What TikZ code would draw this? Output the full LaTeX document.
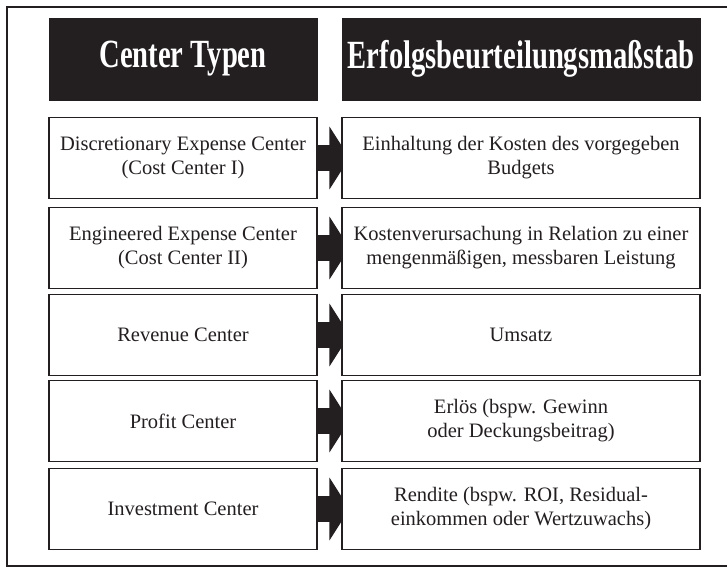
\documentclass[tikz,border=0pt]{standalone}
\usepackage{fontspec}
\usepackage{graphicx}
\setmainfont{Liberation Serif}
\usetikzlibrary{arrows.meta,backgrounds,calc}
\definecolor{ink}{RGB}{35,31,32}
\begin{document}
\begin{tikzpicture}[x=1bp,y=-1bp,
  frame/.style={draw=ink,line width=2.4bp},
  header/.style={fill=ink,draw=ink,text=white,minimum height=82bp,inner sep=0pt,
    font=\fontsize{40bp}{44bp}\selectfont\bfseries},
  leftbox/.style={draw=ink,fill=white,line width=1.1bp,minimum width=268bp,minimum height=81bp,
    align=center,text=ink,inner sep=0pt,font=\fontsize{20.5bp}{24bp}\selectfont},
  rightbox/.style={leftbox,minimum width=358bp},
  blockarrow/.style={draw=ink,fill=ink,line width=26bp,
    -{Triangle[width=62bp,length=20bp]}}
]
\useasboundingbox (0,0) rectangle (727,567);
\draw[frame] (730,7) -- (7,7) -- (7,566) -- (730,566);

\node[header,minimum width=268bp] (H1) at (183,59) {\scalebox{0.715}[1]{Center Typen}};
\node[header,minimum width=358bp] (H2) at (521,59) {\scalebox{0.715}[1]{Erfolgsbeurteilungsmaßstab}};

\node[leftbox] (L1) at (183,158) {Discretionary Expense Center\\(Cost Center I)};
\node[leftbox] (L2) at (183,248) {Engineered Expense Center\\(Cost Center II)};
\node[leftbox] (L3) at (183,335) {Revenue Center};
\node[leftbox] (L4) at (183,421) {Profit Center};
\node[leftbox] (L5) at (183,509) {Investment Center};

\node[rightbox] (R1) at (521,158) {Einhaltung der Kosten des vorgegeben\\Budgets};
\node[rightbox] (R2) at (521,248) {Kostenverursachung in Relation zu einer\\mengenmäßigen, messbaren Leistung};
\node[rightbox] (R3) at (521,335) {Umsatz};
\node[rightbox] (R4) at (521,421) {Erlös (bspw. Gewinn\\oder Deckungsbeitrag)};
\node[rightbox] (R5) at (521,509) {Rendite (bspw. ROI, Residual-\\einkommen oder Wertzuwachs)};

\begin{scope}[on background layer]
\foreach \i in {1,...,5}{
  \draw[blockarrow] (L\i.east) -- ($(R\i.west)+(8,0)$);
}
\end{scope}
\end{tikzpicture}
\end{document}
